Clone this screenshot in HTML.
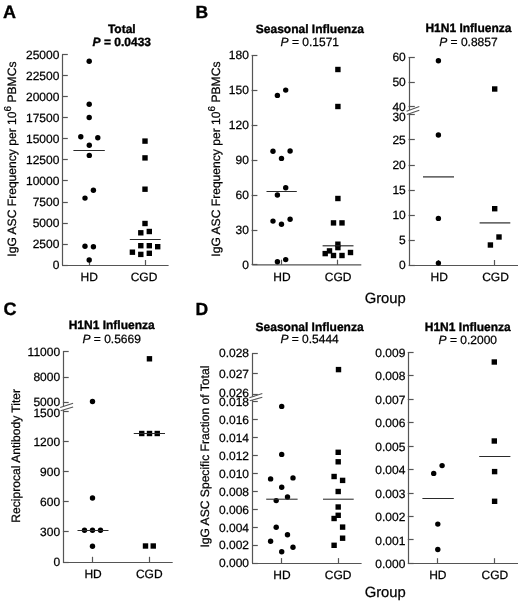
<!DOCTYPE html>
<html><head><meta charset="utf-8"><style>
html,body{margin:0;padding:0;background:#fff;}
svg{display:block;font-family:"Liberation Sans", sans-serif;will-change:transform;text-rendering:geometricPrecision;}
</style></head><body>
<svg width="520" height="603" viewBox="0 0 520 603">

<text x="3.00" y="18.00" font-size="18" text-anchor="start" font-weight="bold" font-style="normal" fill="#000" stroke="#000" stroke-width="0.35" >A</text>
<text x="121.80" y="32.80" font-size="12" text-anchor="middle" font-weight="bold" font-style="normal" fill="#000" stroke="#000" stroke-width="0.35" >Total</text>
<text x="121.80" y="45.70" font-size="12" text-anchor="middle" font-weight="bold" fill="#000" stroke="#000" stroke-width="0.35"><tspan font-style="italic">P</tspan> = 0.0433</text>
<line x1="62.50" y1="54.60" x2="62.50" y2="265.20" stroke="#555555" stroke-width="1.2"/>
<line x1="62.00" y1="265.50" x2="67.80" y2="265.50" stroke="#555555" stroke-width="1.2"/>
<text x="59.40" y="269.35" font-size="12" text-anchor="end" font-weight="normal" font-style="normal" fill="#000" stroke="#000" stroke-width="0.25" >0</text>
<line x1="62.00" y1="244.50" x2="67.80" y2="244.50" stroke="#555555" stroke-width="1.2"/>
<text x="59.40" y="248.29" font-size="12" text-anchor="end" font-weight="normal" font-style="normal" fill="#000" stroke="#000" stroke-width="0.25" >2500</text>
<line x1="62.00" y1="223.50" x2="67.80" y2="223.50" stroke="#555555" stroke-width="1.2"/>
<text x="59.40" y="227.23" font-size="12" text-anchor="end" font-weight="normal" font-style="normal" fill="#000" stroke="#000" stroke-width="0.25" >5000</text>
<line x1="62.00" y1="202.50" x2="67.80" y2="202.50" stroke="#555555" stroke-width="1.2"/>
<text x="59.40" y="206.17" font-size="12" text-anchor="end" font-weight="normal" font-style="normal" fill="#000" stroke="#000" stroke-width="0.25" >7500</text>
<line x1="62.00" y1="180.50" x2="67.80" y2="180.50" stroke="#555555" stroke-width="1.2"/>
<text x="59.40" y="185.11" font-size="12" text-anchor="end" font-weight="normal" font-style="normal" fill="#000" stroke="#000" stroke-width="0.25" >10000</text>
<line x1="62.00" y1="159.50" x2="67.80" y2="159.50" stroke="#555555" stroke-width="1.2"/>
<text x="59.40" y="164.05" font-size="12" text-anchor="end" font-weight="normal" font-style="normal" fill="#000" stroke="#000" stroke-width="0.25" >12500</text>
<line x1="62.00" y1="138.50" x2="67.80" y2="138.50" stroke="#555555" stroke-width="1.2"/>
<text x="59.40" y="142.99" font-size="12" text-anchor="end" font-weight="normal" font-style="normal" fill="#000" stroke="#000" stroke-width="0.25" >15000</text>
<line x1="62.00" y1="117.50" x2="67.80" y2="117.50" stroke="#555555" stroke-width="1.2"/>
<text x="59.40" y="121.93" font-size="12" text-anchor="end" font-weight="normal" font-style="normal" fill="#000" stroke="#000" stroke-width="0.25" >17500</text>
<line x1="62.00" y1="96.50" x2="67.80" y2="96.50" stroke="#555555" stroke-width="1.2"/>
<text x="59.40" y="100.87" font-size="12" text-anchor="end" font-weight="normal" font-style="normal" fill="#000" stroke="#000" stroke-width="0.25" >20000</text>
<line x1="62.00" y1="75.50" x2="67.80" y2="75.50" stroke="#555555" stroke-width="1.2"/>
<text x="59.40" y="79.81" font-size="12" text-anchor="end" font-weight="normal" font-style="normal" fill="#000" stroke="#000" stroke-width="0.25" >22500</text>
<line x1="62.00" y1="54.50" x2="67.80" y2="54.50" stroke="#555555" stroke-width="1.2"/>
<text x="59.40" y="58.75" font-size="12" text-anchor="end" font-weight="normal" font-style="normal" fill="#000" stroke="#000" stroke-width="0.25" >25000</text>
<line x1="62.60" y1="265.50" x2="168.60" y2="265.50" stroke="#555555" stroke-width="1.2"/>
<line x1="89.50" y1="265.20" x2="89.50" y2="260.00" stroke="#555555" stroke-width="1.2"/>
<text x="89.20" y="281.00" font-size="12" text-anchor="middle" font-weight="normal" font-style="normal" fill="#000" stroke="#000" stroke-width="0.25" >HD</text>
<line x1="145.50" y1="265.20" x2="145.50" y2="260.00" stroke="#555555" stroke-width="1.2"/>
<text x="144.00" y="281.00" font-size="12" text-anchor="middle" font-weight="normal" font-style="normal" fill="#000" stroke="#000" stroke-width="0.25" >CGD</text>
<text x="0" y="0" font-size="12.1" text-anchor="middle" fill="#000" stroke="#000" stroke-width="0.25" transform="translate(16.00,159.10) rotate(-90)">IgG ASC Frequency per 10<tspan font-size="10" dy="-5.3">6</tspan><tspan dy="5.3"> PBMCs</tspan></text>
<circle cx="89.20" cy="61.20" r="2.7" fill="#000"/>
<circle cx="89.20" cy="104.20" r="2.7" fill="#000"/>
<circle cx="89.20" cy="117.50" r="2.7" fill="#000"/>
<circle cx="80.80" cy="136.80" r="2.7" fill="#000"/>
<circle cx="97.80" cy="137.70" r="2.7" fill="#000"/>
<circle cx="89.30" cy="145.20" r="2.7" fill="#000"/>
<circle cx="89.30" cy="155.40" r="2.7" fill="#000"/>
<circle cx="93.40" cy="190.25" r="2.7" fill="#000"/>
<circle cx="85.00" cy="198.10" r="2.7" fill="#000"/>
<circle cx="85.00" cy="246.30" r="2.7" fill="#000"/>
<circle cx="93.40" cy="246.70" r="2.7" fill="#000"/>
<circle cx="89.20" cy="260.00" r="2.7" fill="#000"/>
<rect x="142.30" y="138.40" width="5.4" height="5.4" fill="#000"/>
<rect x="142.30" y="155.20" width="5.4" height="5.4" fill="#000"/>
<rect x="142.30" y="186.50" width="5.4" height="5.4" fill="#000"/>
<rect x="142.30" y="220.80" width="5.4" height="5.4" fill="#000"/>
<rect x="138.10" y="230.10" width="5.4" height="5.4" fill="#000"/>
<rect x="146.60" y="228.80" width="5.4" height="5.4" fill="#000"/>
<rect x="138.10" y="243.00" width="5.4" height="5.4" fill="#000"/>
<rect x="146.60" y="243.00" width="5.4" height="5.4" fill="#000"/>
<rect x="155.00" y="244.00" width="5.4" height="5.4" fill="#000"/>
<rect x="129.70" y="249.50" width="5.4" height="5.4" fill="#000"/>
<rect x="138.10" y="251.70" width="5.4" height="5.4" fill="#000"/>
<rect x="146.60" y="250.60" width="5.4" height="5.4" fill="#000"/>
<line x1="73.40" y1="150.50" x2="104.80" y2="150.50" stroke="#2a2a2a" stroke-width="1.05"/>
<line x1="129.80" y1="239.50" x2="160.70" y2="239.50" stroke="#2a2a2a" stroke-width="1.05"/>
<text x="195.60" y="17.70" font-size="17.5" text-anchor="start" font-weight="bold" font-style="normal" fill="#000" stroke="#000" stroke-width="0.35" >B</text>
<text x="309.80" y="32.80" font-size="12" text-anchor="middle" font-weight="bold" font-style="normal" fill="#000" stroke="#000" stroke-width="0.35" >Seasonal Influenza</text>
<text x="309.80" y="46.20" font-size="12" text-anchor="middle" font-weight="normal" fill="#000" stroke="#000" stroke-width="0.25"><tspan font-style="italic">P</tspan> = 0.1571</text>
<line x1="252.50" y1="55.50" x2="252.50" y2="264.90" stroke="#555555" stroke-width="1.2"/>
<line x1="251.60" y1="264.50" x2="257.40" y2="264.50" stroke="#555555" stroke-width="1.2"/>
<text x="248.90" y="268.50" font-size="12" text-anchor="end" font-weight="normal" font-style="normal" fill="#000" stroke="#000" stroke-width="0.25" >0</text>
<line x1="251.60" y1="230.50" x2="257.40" y2="230.50" stroke="#555555" stroke-width="1.2"/>
<text x="248.90" y="233.65" font-size="12" text-anchor="end" font-weight="normal" font-style="normal" fill="#000" stroke="#000" stroke-width="0.25" >30</text>
<line x1="251.60" y1="195.50" x2="257.40" y2="195.50" stroke="#555555" stroke-width="1.2"/>
<text x="248.90" y="198.80" font-size="12" text-anchor="end" font-weight="normal" font-style="normal" fill="#000" stroke="#000" stroke-width="0.25" >60</text>
<line x1="251.60" y1="160.50" x2="257.40" y2="160.50" stroke="#555555" stroke-width="1.2"/>
<text x="248.90" y="163.95" font-size="12" text-anchor="end" font-weight="normal" font-style="normal" fill="#000" stroke="#000" stroke-width="0.25" >90</text>
<line x1="251.60" y1="125.50" x2="257.40" y2="125.50" stroke="#555555" stroke-width="1.2"/>
<text x="248.90" y="129.10" font-size="12" text-anchor="end" font-weight="normal" font-style="normal" fill="#000" stroke="#000" stroke-width="0.25" >120</text>
<line x1="251.60" y1="90.50" x2="257.40" y2="90.50" stroke="#555555" stroke-width="1.2"/>
<text x="248.90" y="94.25" font-size="12" text-anchor="end" font-weight="normal" font-style="normal" fill="#000" stroke="#000" stroke-width="0.25" >150</text>
<line x1="251.60" y1="55.50" x2="257.40" y2="55.50" stroke="#555555" stroke-width="1.2"/>
<text x="248.90" y="59.40" font-size="12" text-anchor="end" font-weight="normal" font-style="normal" fill="#000" stroke="#000" stroke-width="0.25" >180</text>
<line x1="252.20" y1="264.90" x2="361.30" y2="264.90" stroke="#555555" stroke-width="1.2"/>
<line x1="281.50" y1="264.90" x2="281.50" y2="259.70" stroke="#555555" stroke-width="1.2"/>
<text x="282.00" y="281.00" font-size="12" text-anchor="middle" font-weight="normal" font-style="normal" fill="#000" stroke="#000" stroke-width="0.25" >HD</text>
<line x1="337.50" y1="264.90" x2="337.50" y2="259.70" stroke="#555555" stroke-width="1.2"/>
<text x="338.20" y="281.00" font-size="12" text-anchor="middle" font-weight="normal" font-style="normal" fill="#000" stroke="#000" stroke-width="0.25" >CGD</text>
<text x="0" y="0" font-size="12.1" text-anchor="middle" fill="#000" stroke="#000" stroke-width="0.25" transform="translate(220.10,159.10) rotate(-90)">IgG ASC Frequency per 10<tspan font-size="10" dy="-5.3">6</tspan><tspan dy="5.3"> PBMCs</tspan></text>
<circle cx="277.40" cy="95.40" r="2.7" fill="#000"/>
<circle cx="285.70" cy="90.10" r="2.7" fill="#000"/>
<circle cx="273.00" cy="151.30" r="2.7" fill="#000"/>
<circle cx="290.10" cy="151.00" r="2.7" fill="#000"/>
<circle cx="281.50" cy="158.40" r="2.7" fill="#000"/>
<circle cx="285.70" cy="187.80" r="2.7" fill="#000"/>
<circle cx="277.40" cy="195.00" r="2.7" fill="#000"/>
<circle cx="273.00" cy="221.10" r="2.7" fill="#000"/>
<circle cx="290.10" cy="219.20" r="2.7" fill="#000"/>
<circle cx="281.50" cy="224.30" r="2.7" fill="#000"/>
<circle cx="277.40" cy="261.70" r="2.7" fill="#000"/>
<circle cx="285.70" cy="259.60" r="2.7" fill="#000"/>
<rect x="335.20" y="66.80" width="5.4" height="5.4" fill="#000"/>
<rect x="335.20" y="103.80" width="5.4" height="5.4" fill="#000"/>
<rect x="335.20" y="195.80" width="5.4" height="5.4" fill="#000"/>
<rect x="330.80" y="220.20" width="5.4" height="5.4" fill="#000"/>
<rect x="339.30" y="220.20" width="5.4" height="5.4" fill="#000"/>
<rect x="335.20" y="241.50" width="5.4" height="5.4" fill="#000"/>
<rect x="335.20" y="244.90" width="5.4" height="5.4" fill="#000"/>
<rect x="326.80" y="248.20" width="5.4" height="5.4" fill="#000"/>
<rect x="322.50" y="250.90" width="5.4" height="5.4" fill="#000"/>
<rect x="330.80" y="252.80" width="5.4" height="5.4" fill="#000"/>
<rect x="339.30" y="252.80" width="5.4" height="5.4" fill="#000"/>
<rect x="347.80" y="249.80" width="5.4" height="5.4" fill="#000"/>
<line x1="266.50" y1="191.50" x2="296.80" y2="191.50" stroke="#2a2a2a" stroke-width="1.05"/>
<line x1="322.60" y1="245.80" x2="353.50" y2="245.80" stroke="#2a2a2a" stroke-width="1.15"/>
<text x="468.40" y="32.40" font-size="12" text-anchor="middle" font-weight="bold" font-style="normal" fill="#000" stroke="#000" stroke-width="0.35" >H1N1 Influenza</text>
<text x="468.40" y="46.10" font-size="12" text-anchor="middle" font-weight="normal" fill="#000" stroke="#000" stroke-width="0.25"><tspan font-style="italic">P</tspan> = 0.8857</text>
<line x1="409.50" y1="57.00" x2="409.50" y2="110.00" stroke="#555555" stroke-width="1.2"/>
<line x1="409.50" y1="113.20" x2="409.50" y2="265.20" stroke="#555555" stroke-width="1.2"/>
<line x1="408.60" y1="57.50" x2="414.80" y2="57.50" stroke="#555555" stroke-width="1.2"/>
<text x="405.80" y="61.15" font-size="12" text-anchor="end" font-weight="normal" font-style="normal" fill="#000" stroke="#000" stroke-width="0.25" >60</text>
<line x1="408.60" y1="82.50" x2="414.80" y2="82.50" stroke="#555555" stroke-width="1.2"/>
<text x="405.80" y="86.15" font-size="12" text-anchor="end" font-weight="normal" font-style="normal" fill="#000" stroke="#000" stroke-width="0.25" >50</text>
<line x1="408.60" y1="106.50" x2="414.80" y2="106.50" stroke="#555555" stroke-width="1.2"/>
<text x="405.80" y="110.65" font-size="12" text-anchor="end" font-weight="normal" font-style="normal" fill="#000" stroke="#000" stroke-width="0.25" >40</text>
<line x1="408.60" y1="114.50" x2="414.80" y2="114.50" stroke="#555555" stroke-width="1.2"/>
<text x="405.80" y="120.85" font-size="12" text-anchor="end" font-weight="normal" font-style="normal" fill="#000" stroke="#000" stroke-width="0.25" >30</text>
<line x1="408.60" y1="265.50" x2="414.80" y2="265.50" stroke="#555555" stroke-width="1.2"/>
<text x="405.80" y="269.35" font-size="12" text-anchor="end" font-weight="normal" font-style="normal" fill="#000" stroke="#000" stroke-width="0.25" >0</text>
<line x1="408.60" y1="240.50" x2="414.80" y2="240.50" stroke="#555555" stroke-width="1.2"/>
<text x="405.80" y="244.30" font-size="12" text-anchor="end" font-weight="normal" font-style="normal" fill="#000" stroke="#000" stroke-width="0.25" >5</text>
<line x1="408.60" y1="215.50" x2="414.80" y2="215.50" stroke="#555555" stroke-width="1.2"/>
<text x="405.80" y="219.25" font-size="12" text-anchor="end" font-weight="normal" font-style="normal" fill="#000" stroke="#000" stroke-width="0.25" >10</text>
<line x1="408.60" y1="190.50" x2="414.80" y2="190.50" stroke="#555555" stroke-width="1.2"/>
<text x="405.80" y="194.20" font-size="12" text-anchor="end" font-weight="normal" font-style="normal" fill="#000" stroke="#000" stroke-width="0.25" >15</text>
<line x1="408.60" y1="165.50" x2="414.80" y2="165.50" stroke="#555555" stroke-width="1.2"/>
<text x="405.80" y="169.15" font-size="12" text-anchor="end" font-weight="normal" font-style="normal" fill="#000" stroke="#000" stroke-width="0.25" >20</text>
<line x1="408.60" y1="139.50" x2="414.80" y2="139.50" stroke="#555555" stroke-width="1.2"/>
<text x="405.80" y="144.10" font-size="12" text-anchor="end" font-weight="normal" font-style="normal" fill="#000" stroke="#000" stroke-width="0.25" >25</text>
<line x1="406.60" y1="111.30" x2="419.30" y2="106.60" stroke="#555555" stroke-width="1.1"/>
<line x1="406.90" y1="114.60" x2="419.30" y2="110.20" stroke="#555555" stroke-width="1.1"/>
<line x1="409.20" y1="265.50" x2="518.00" y2="265.50" stroke="#555555" stroke-width="1.2"/>
<line x1="438.50" y1="265.20" x2="438.50" y2="260.00" stroke="#555555" stroke-width="1.2"/>
<text x="439.20" y="281.00" font-size="12" text-anchor="middle" font-weight="normal" font-style="normal" fill="#000" stroke="#000" stroke-width="0.25" >HD</text>
<line x1="494.50" y1="265.20" x2="494.50" y2="260.00" stroke="#555555" stroke-width="1.2"/>
<text x="495.50" y="281.00" font-size="12" text-anchor="middle" font-weight="normal" font-style="normal" fill="#000" stroke="#000" stroke-width="0.25" >CGD</text>
<circle cx="438.40" cy="60.70" r="2.7" fill="#000"/>
<circle cx="438.40" cy="135.00" r="2.7" fill="#000"/>
<circle cx="438.40" cy="218.40" r="2.7" fill="#000"/>
<circle cx="438.40" cy="263.10" r="2.7" fill="#000"/>
<rect x="492.00" y="86.30" width="5.4" height="5.4" fill="#000"/>
<rect x="492.00" y="206.00" width="5.4" height="5.4" fill="#000"/>
<rect x="496.30" y="234.30" width="5.4" height="5.4" fill="#000"/>
<rect x="487.70" y="242.30" width="5.4" height="5.4" fill="#000"/>
<line x1="423.00" y1="176.90" x2="454.00" y2="176.90" stroke="#2a2a2a" stroke-width="1.2"/>
<line x1="479.60" y1="222.90" x2="510.30" y2="222.90" stroke="#2a2a2a" stroke-width="1.2"/>
<text x="364.70" y="302.60" font-size="14.8" text-anchor="start" font-weight="normal" font-style="normal" fill="#000" stroke="#000" stroke-width="0.25" >Group</text>
<text x="3.40" y="314.90" font-size="18" text-anchor="start" font-weight="bold" font-style="normal" fill="#000" stroke="#000" stroke-width="0.35" >C</text>
<text x="111.70" y="329.20" font-size="12" text-anchor="middle" font-weight="bold" font-style="normal" fill="#000" stroke="#000" stroke-width="0.35" >H1N1 Influenza</text>
<text x="111.70" y="342.70" font-size="12" text-anchor="middle" font-weight="normal" fill="#000" stroke="#000" stroke-width="0.25"><tspan font-style="italic">P</tspan> = 0.5669</text>
<line x1="63.50" y1="351.90" x2="63.50" y2="406.50" stroke="#555555" stroke-width="1.2"/>
<line x1="63.50" y1="410.00" x2="63.50" y2="562.00" stroke="#555555" stroke-width="1.2"/>
<line x1="62.90" y1="351.50" x2="68.70" y2="351.50" stroke="#555555" stroke-width="1.2"/>
<text x="60.10" y="356.05" font-size="12" text-anchor="end" font-weight="normal" font-style="normal" fill="#000" stroke="#000" stroke-width="0.25" >11000</text>
<line x1="62.90" y1="377.50" x2="68.70" y2="377.50" stroke="#555555" stroke-width="1.2"/>
<text x="60.10" y="381.35" font-size="12" text-anchor="end" font-weight="normal" font-style="normal" fill="#000" stroke="#000" stroke-width="0.25" >8000</text>
<line x1="62.90" y1="402.50" x2="68.70" y2="402.50" stroke="#555555" stroke-width="1.2"/>
<text x="60.10" y="406.15" font-size="12" text-anchor="end" font-weight="normal" font-style="normal" fill="#000" stroke="#000" stroke-width="0.25" >5000</text>
<line x1="62.90" y1="562.50" x2="68.70" y2="562.50" stroke="#555555" stroke-width="1.2"/>
<text x="60.10" y="566.15" font-size="12" text-anchor="end" font-weight="normal" font-style="normal" fill="#000" stroke="#000" stroke-width="0.25" >0</text>
<line x1="62.90" y1="531.50" x2="68.70" y2="531.50" stroke="#555555" stroke-width="1.2"/>
<text x="60.10" y="536.00" font-size="12" text-anchor="end" font-weight="normal" font-style="normal" fill="#000" stroke="#000" stroke-width="0.25" >300</text>
<line x1="62.90" y1="501.50" x2="68.70" y2="501.50" stroke="#555555" stroke-width="1.2"/>
<text x="60.10" y="505.85" font-size="12" text-anchor="end" font-weight="normal" font-style="normal" fill="#000" stroke="#000" stroke-width="0.25" >600</text>
<line x1="62.90" y1="471.50" x2="68.70" y2="471.50" stroke="#555555" stroke-width="1.2"/>
<text x="60.10" y="475.70" font-size="12" text-anchor="end" font-weight="normal" font-style="normal" fill="#000" stroke="#000" stroke-width="0.25" >900</text>
<line x1="62.90" y1="441.50" x2="68.70" y2="441.50" stroke="#555555" stroke-width="1.2"/>
<text x="60.10" y="445.55" font-size="12" text-anchor="end" font-weight="normal" font-style="normal" fill="#000" stroke="#000" stroke-width="0.25" >1200</text>
<line x1="62.90" y1="411.50" x2="68.70" y2="411.50" stroke="#555555" stroke-width="1.2"/>
<text x="60.10" y="417.20" font-size="12" text-anchor="end" font-weight="normal" font-style="normal" fill="#000" stroke="#000" stroke-width="0.25" >1500</text>
<line x1="60.20" y1="407.50" x2="73.10" y2="403.30" stroke="#555555" stroke-width="1.1"/>
<line x1="60.60" y1="410.70" x2="73.10" y2="407.00" stroke="#555555" stroke-width="1.1"/>
<line x1="63.50" y1="562.50" x2="172.70" y2="562.50" stroke="#555555" stroke-width="1.2"/>
<line x1="92.50" y1="562.00" x2="92.50" y2="556.80" stroke="#555555" stroke-width="1.2"/>
<text x="93.10" y="578.00" font-size="12" text-anchor="middle" font-weight="normal" font-style="normal" fill="#000" stroke="#000" stroke-width="0.25" >HD</text>
<line x1="149.50" y1="562.00" x2="149.50" y2="556.80" stroke="#555555" stroke-width="1.2"/>
<text x="149.30" y="578.00" font-size="12" text-anchor="middle" font-weight="normal" font-style="normal" fill="#000" stroke="#000" stroke-width="0.25" >CGD</text>
<text x="0" y="0" font-size="12.1" text-anchor="middle" fill="#000" stroke="#000" stroke-width="0.25" transform="translate(20.10,455.80) rotate(-90)">Reciprocal Antibody Titer</text>
<circle cx="92.50" cy="401.50" r="2.7" fill="#000"/>
<circle cx="92.50" cy="498.00" r="2.7" fill="#000"/>
<circle cx="84.50" cy="530.25" r="2.7" fill="#000"/>
<circle cx="92.50" cy="530.25" r="2.7" fill="#000"/>
<circle cx="100.50" cy="530.25" r="2.7" fill="#000"/>
<circle cx="92.50" cy="546.25" r="2.7" fill="#000"/>
<rect x="146.75" y="356.10" width="5.4" height="5.4" fill="#000"/>
<rect x="139.05" y="430.80" width="5.4" height="5.4" fill="#000"/>
<rect x="146.80" y="430.80" width="5.4" height="5.4" fill="#000"/>
<rect x="154.55" y="430.80" width="5.4" height="5.4" fill="#000"/>
<rect x="142.80" y="543.30" width="5.4" height="5.4" fill="#000"/>
<rect x="150.55" y="543.30" width="5.4" height="5.4" fill="#000"/>
<line x1="77.50" y1="530.50" x2="108.50" y2="530.50" stroke="#2a2a2a" stroke-width="1.05"/>
<line x1="133.75" y1="433.50" x2="165.00" y2="433.50" stroke="#2a2a2a" stroke-width="1.05"/>
<text x="195.60" y="314.60" font-size="17.5" text-anchor="start" font-weight="bold" font-style="normal" fill="#000" stroke="#000" stroke-width="0.35" >D</text>
<text x="309.60" y="331.20" font-size="12" text-anchor="middle" font-weight="bold" font-style="normal" fill="#000" stroke="#000" stroke-width="0.35" >Seasonal Influenza</text>
<text x="309.60" y="342.90" font-size="12" text-anchor="middle" font-weight="normal" fill="#000" stroke="#000" stroke-width="0.25"><tspan font-style="italic">P</tspan> = 0.5444</text>
<line x1="252.50" y1="353.30" x2="252.50" y2="396.50" stroke="#555555" stroke-width="1.2"/>
<line x1="252.50" y1="400.00" x2="252.50" y2="563.30" stroke="#555555" stroke-width="1.2"/>
<line x1="252.00" y1="353.50" x2="257.80" y2="353.50" stroke="#555555" stroke-width="1.2"/>
<text x="249.00" y="357.45" font-size="12" text-anchor="end" font-weight="normal" font-style="normal" fill="#000" stroke="#000" stroke-width="0.25" >0.028</text>
<line x1="252.00" y1="373.50" x2="257.80" y2="373.50" stroke="#555555" stroke-width="1.2"/>
<text x="249.00" y="377.65" font-size="12" text-anchor="end" font-weight="normal" font-style="normal" fill="#000" stroke="#000" stroke-width="0.25" >0.027</text>
<line x1="252.00" y1="394.50" x2="257.80" y2="394.50" stroke="#555555" stroke-width="1.2"/>
<text x="249.00" y="396.65" font-size="12" text-anchor="end" font-weight="normal" font-style="normal" fill="#000" stroke="#000" stroke-width="0.25" >0.026</text>
<line x1="252.00" y1="563.50" x2="257.80" y2="563.50" stroke="#555555" stroke-width="1.2"/>
<text x="249.00" y="567.45" font-size="12" text-anchor="end" font-weight="normal" font-style="normal" fill="#000" stroke="#000" stroke-width="0.25" >0.000</text>
<line x1="252.00" y1="545.50" x2="257.80" y2="545.50" stroke="#555555" stroke-width="1.2"/>
<text x="249.00" y="549.48" font-size="12" text-anchor="end" font-weight="normal" font-style="normal" fill="#000" stroke="#000" stroke-width="0.25" >0.002</text>
<line x1="252.00" y1="527.50" x2="257.80" y2="527.50" stroke="#555555" stroke-width="1.2"/>
<text x="249.00" y="531.51" font-size="12" text-anchor="end" font-weight="normal" font-style="normal" fill="#000" stroke="#000" stroke-width="0.25" >0.004</text>
<line x1="252.00" y1="509.50" x2="257.80" y2="509.50" stroke="#555555" stroke-width="1.2"/>
<text x="249.00" y="513.54" font-size="12" text-anchor="end" font-weight="normal" font-style="normal" fill="#000" stroke="#000" stroke-width="0.25" >0.006</text>
<line x1="252.00" y1="491.50" x2="257.80" y2="491.50" stroke="#555555" stroke-width="1.2"/>
<text x="249.00" y="495.57" font-size="12" text-anchor="end" font-weight="normal" font-style="normal" fill="#000" stroke="#000" stroke-width="0.25" >0.008</text>
<line x1="252.00" y1="473.50" x2="257.80" y2="473.50" stroke="#555555" stroke-width="1.2"/>
<text x="249.00" y="477.60" font-size="12" text-anchor="end" font-weight="normal" font-style="normal" fill="#000" stroke="#000" stroke-width="0.25" >0.010</text>
<line x1="252.00" y1="455.50" x2="257.80" y2="455.50" stroke="#555555" stroke-width="1.2"/>
<text x="249.00" y="459.63" font-size="12" text-anchor="end" font-weight="normal" font-style="normal" fill="#000" stroke="#000" stroke-width="0.25" >0.012</text>
<line x1="252.00" y1="437.50" x2="257.80" y2="437.50" stroke="#555555" stroke-width="1.2"/>
<text x="249.00" y="441.66" font-size="12" text-anchor="end" font-weight="normal" font-style="normal" fill="#000" stroke="#000" stroke-width="0.25" >0.014</text>
<line x1="252.00" y1="419.50" x2="257.80" y2="419.50" stroke="#555555" stroke-width="1.2"/>
<text x="249.00" y="423.69" font-size="12" text-anchor="end" font-weight="normal" font-style="normal" fill="#000" stroke="#000" stroke-width="0.25" >0.016</text>
<line x1="252.00" y1="401.50" x2="257.80" y2="401.50" stroke="#555555" stroke-width="1.2"/>
<text x="249.00" y="406.42" font-size="12" text-anchor="end" font-weight="normal" font-style="normal" fill="#000" stroke="#000" stroke-width="0.25" >0.018</text>
<line x1="249.30" y1="397.80" x2="262.30" y2="393.50" stroke="#555555" stroke-width="1.1"/>
<line x1="249.80" y1="400.70" x2="262.30" y2="397.30" stroke="#555555" stroke-width="1.1"/>
<line x1="252.60" y1="563.50" x2="361.60" y2="563.50" stroke="#555555" stroke-width="1.2"/>
<line x1="281.50" y1="563.30" x2="281.50" y2="558.10" stroke="#555555" stroke-width="1.2"/>
<text x="282.00" y="578.80" font-size="12" text-anchor="middle" font-weight="normal" font-style="normal" fill="#000" stroke="#000" stroke-width="0.25" >HD</text>
<line x1="338.50" y1="563.30" x2="338.50" y2="558.10" stroke="#555555" stroke-width="1.2"/>
<text x="338.20" y="578.80" font-size="12" text-anchor="middle" font-weight="normal" font-style="normal" fill="#000" stroke="#000" stroke-width="0.25" >CGD</text>
<text x="0" y="0" font-size="12.1" text-anchor="middle" fill="#000" stroke="#000" stroke-width="0.25" transform="translate(209.00,456.60) rotate(-90)">IgG ASC Specific Fraction of Total</text>
<circle cx="281.70" cy="406.40" r="2.7" fill="#000"/>
<circle cx="281.70" cy="454.40" r="2.7" fill="#000"/>
<circle cx="270.60" cy="478.90" r="2.7" fill="#000"/>
<circle cx="293.00" cy="477.90" r="2.7" fill="#000"/>
<circle cx="281.70" cy="487.20" r="2.7" fill="#000"/>
<circle cx="287.50" cy="497.00" r="2.7" fill="#000"/>
<circle cx="276.20" cy="500.60" r="2.7" fill="#000"/>
<circle cx="276.20" cy="527.30" r="2.7" fill="#000"/>
<circle cx="287.50" cy="534.70" r="2.7" fill="#000"/>
<circle cx="270.60" cy="541.20" r="2.7" fill="#000"/>
<circle cx="293.00" cy="547.20" r="2.7" fill="#000"/>
<circle cx="281.70" cy="551.80" r="2.7" fill="#000"/>
<rect x="335.80" y="366.90" width="5.4" height="5.4" fill="#000"/>
<rect x="335.50" y="449.60" width="5.4" height="5.4" fill="#000"/>
<rect x="335.50" y="459.10" width="5.4" height="5.4" fill="#000"/>
<rect x="331.40" y="473.80" width="5.4" height="5.4" fill="#000"/>
<rect x="339.90" y="477.70" width="5.4" height="5.4" fill="#000"/>
<rect x="335.50" y="488.80" width="5.4" height="5.4" fill="#000"/>
<rect x="335.50" y="504.30" width="5.4" height="5.4" fill="#000"/>
<rect x="335.50" y="512.60" width="5.4" height="5.4" fill="#000"/>
<rect x="331.40" y="515.80" width="5.4" height="5.4" fill="#000"/>
<rect x="339.90" y="524.40" width="5.4" height="5.4" fill="#000"/>
<rect x="339.90" y="535.50" width="5.4" height="5.4" fill="#000"/>
<rect x="331.40" y="542.60" width="5.4" height="5.4" fill="#000"/>
<line x1="266.20" y1="499.20" x2="297.60" y2="499.20" stroke="#2a2a2a" stroke-width="1.05"/>
<line x1="323.00" y1="499.20" x2="353.70" y2="499.20" stroke="#2a2a2a" stroke-width="1.05"/>
<text x="467.80" y="331.20" font-size="12" text-anchor="middle" font-weight="bold" font-style="normal" fill="#000" stroke="#000" stroke-width="0.35" >H1N1 Influenza</text>
<text x="467.80" y="343.60" font-size="12" text-anchor="middle" font-weight="normal" fill="#000" stroke="#000" stroke-width="0.25"><tspan font-style="italic">P</tspan> = 0.2000</text>
<line x1="408.50" y1="352.20" x2="408.50" y2="563.40" stroke="#555555" stroke-width="1.2"/>
<line x1="407.80" y1="563.50" x2="413.60" y2="563.50" stroke="#555555" stroke-width="1.2"/>
<text x="405.40" y="568.00" font-size="12" text-anchor="end" font-weight="normal" font-style="normal" fill="#000" stroke="#000" stroke-width="0.25" >0.000</text>
<line x1="407.80" y1="539.50" x2="413.60" y2="539.50" stroke="#555555" stroke-width="1.2"/>
<text x="405.40" y="544.54" font-size="12" text-anchor="end" font-weight="normal" font-style="normal" fill="#000" stroke="#000" stroke-width="0.25" >0.001</text>
<line x1="407.80" y1="516.50" x2="413.60" y2="516.50" stroke="#555555" stroke-width="1.2"/>
<text x="405.40" y="521.08" font-size="12" text-anchor="end" font-weight="normal" font-style="normal" fill="#000" stroke="#000" stroke-width="0.25" >0.002</text>
<line x1="407.80" y1="493.50" x2="413.60" y2="493.50" stroke="#555555" stroke-width="1.2"/>
<text x="405.40" y="497.62" font-size="12" text-anchor="end" font-weight="normal" font-style="normal" fill="#000" stroke="#000" stroke-width="0.25" >0.003</text>
<line x1="407.80" y1="469.50" x2="413.60" y2="469.50" stroke="#555555" stroke-width="1.2"/>
<text x="405.40" y="474.16" font-size="12" text-anchor="end" font-weight="normal" font-style="normal" fill="#000" stroke="#000" stroke-width="0.25" >0.004</text>
<line x1="407.80" y1="446.50" x2="413.60" y2="446.50" stroke="#555555" stroke-width="1.2"/>
<text x="405.40" y="450.70" font-size="12" text-anchor="end" font-weight="normal" font-style="normal" fill="#000" stroke="#000" stroke-width="0.25" >0.005</text>
<line x1="407.80" y1="422.50" x2="413.60" y2="422.50" stroke="#555555" stroke-width="1.2"/>
<text x="405.40" y="427.24" font-size="12" text-anchor="end" font-weight="normal" font-style="normal" fill="#000" stroke="#000" stroke-width="0.25" >0.006</text>
<line x1="407.80" y1="399.50" x2="413.60" y2="399.50" stroke="#555555" stroke-width="1.2"/>
<text x="405.40" y="403.78" font-size="12" text-anchor="end" font-weight="normal" font-style="normal" fill="#000" stroke="#000" stroke-width="0.25" >0.007</text>
<line x1="407.80" y1="375.50" x2="413.60" y2="375.50" stroke="#555555" stroke-width="1.2"/>
<text x="405.40" y="380.32" font-size="12" text-anchor="end" font-weight="normal" font-style="normal" fill="#000" stroke="#000" stroke-width="0.25" >0.008</text>
<line x1="407.80" y1="352.50" x2="413.60" y2="352.50" stroke="#555555" stroke-width="1.2"/>
<text x="405.40" y="356.86" font-size="12" text-anchor="end" font-weight="normal" font-style="normal" fill="#000" stroke="#000" stroke-width="0.25" >0.009</text>
<line x1="408.40" y1="563.50" x2="518.00" y2="563.50" stroke="#555555" stroke-width="1.2"/>
<line x1="437.50" y1="563.40" x2="437.50" y2="558.20" stroke="#555555" stroke-width="1.2"/>
<text x="437.80" y="579.00" font-size="12" text-anchor="middle" font-weight="normal" font-style="normal" fill="#000" stroke="#000" stroke-width="0.25" >HD</text>
<line x1="494.50" y1="563.40" x2="494.50" y2="558.20" stroke="#555555" stroke-width="1.2"/>
<text x="494.90" y="579.00" font-size="12" text-anchor="middle" font-weight="normal" font-style="normal" fill="#000" stroke="#000" stroke-width="0.25" >CGD</text>
<circle cx="442.10" cy="465.60" r="2.7" fill="#000"/>
<circle cx="433.70" cy="473.40" r="2.7" fill="#000"/>
<circle cx="437.80" cy="524.10" r="2.7" fill="#000"/>
<circle cx="437.80" cy="549.50" r="2.7" fill="#000"/>
<rect x="491.60" y="359.30" width="5.4" height="5.4" fill="#000"/>
<rect x="491.60" y="438.30" width="5.4" height="5.4" fill="#000"/>
<rect x="491.90" y="468.90" width="5.4" height="5.4" fill="#000"/>
<rect x="491.90" y="498.60" width="5.4" height="5.4" fill="#000"/>
<line x1="422.40" y1="498.50" x2="453.80" y2="498.50" stroke="#2a2a2a" stroke-width="1.05"/>
<line x1="479.20" y1="456.50" x2="510.40" y2="456.50" stroke="#2a2a2a" stroke-width="1.05"/>
<text x="364.70" y="597.20" font-size="14.8" text-anchor="start" font-weight="normal" font-style="normal" fill="#000" stroke="#000" stroke-width="0.25" >Group</text>
</svg>
</body></html>
